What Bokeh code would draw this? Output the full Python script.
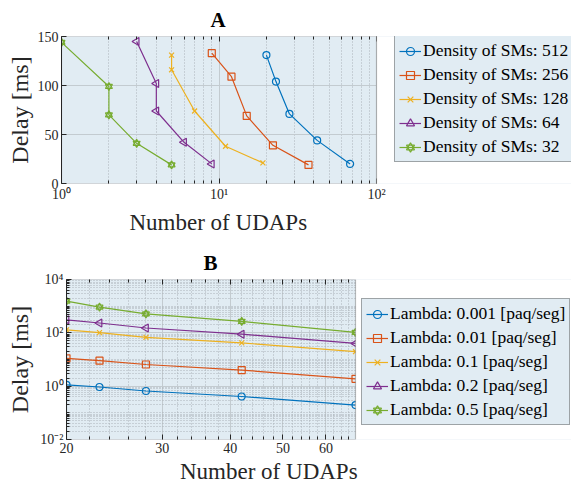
import math
from bokeh.plotting import figure
from bokeh.models import (FixedTicker, LogAxis, Legend, LegendItem, Range1d,
                          BoxAnnotation, Title)
from bokeh.embed import file_html
from bokeh.resources import INLINE

FONT = "Liberation Serif"
BG = "#e1ecf3"
INK = "#262626"
COLORS = ["#0072BD", "#D95319", "#EDB120", "#7E2F8E", "#77AC30"]
MARKERS = ["circle", "square", "x", "tri_left", "hexagram"]

# ---------------- Panel A data ----------------
a_labels = ["Density of SMs: 512", "Density of SMs: 256", "Density of SMs: 128",
            "Density of SMs: 64", "Density of SMs: 32"]
a_x_512 = [20, 23, 28, 42, 68]
a_y_512 = [131, 104, 71, 44, 20]
a_x_256 = [9, 12, 15, 22, 37]
a_y_256 = [133, 109, 69, 39, 19]
a_x_128 = [5, 5, 7, 11, 19]
a_y_128 = [131, 116, 74, 38, 21]
a_x_64 = [3, 4, 4, 6, 9]
a_y_64 = [145, 102, 74, 42, 20]
a_x_32 = [1, 2, 2, 3, 5]
a_y_32 = [144, 99, 70, 41, 19]
a_xlim = (1, 100)
a_ylim = (0, 150)
a_xticks = [1, 10, 100]
a_xtick_labels = ["10\u2070", "10\u00b9", "10\u00b2"]
a_yticks = [0, 50, 100, 150]

# ---------------- Panel B data ----------------
b_labels = ["Lambda: 0.001 [paq/seg]", "Lambda: 0.01 [paq/seg]", "Lambda: 0.1 [paq/seg]",
            "Lambda: 0.2 [paq/seg]", "Lambda: 0.5 [paq/seg]"]
b_x = [20, 23, 28, 42, 68]
b_y_0001 = [1.12, 0.93, 0.66, 0.41, 0.195]
b_y_001 = [11.1, 9.0, 6.5, 4.0, 1.88]
b_y_01 = [129, 102, 68, 42, 19.6]
b_y_02 = [308, 234, 152, 89, 40]
b_y_05 = [1550, 927, 513, 268, 104]
b_xlim = (20, 68)
b_ylim = (0.01, 10000)
b_xticks = [20, 30, 40, 50, 60]
b_xminor = [22, 24, 26, 28, 32, 34, 36, 38, 42, 44, 46, 48, 52, 54, 56, 58, 62, 64, 66]
b_yticks = [0.01, 1, 100, 10000]
b_ytick_labels = ["10\u207b\u00b2", "10\u2070", "10\u00b2", "10\u2074"]

W = 571


def style_axis(ax, minor=True):
    ax.axis_line_color = INK
    ax.major_tick_line_color = INK
    ax.minor_tick_line_color = INK if minor else None
    ax.major_tick_in = 5
    ax.major_tick_out = 0
    ax.minor_tick_in = 3
    ax.minor_tick_out = 0
    ax.major_label_text_font = FONT
    ax.major_label_text_font_size = "14px"
    ax.major_label_text_color = INK
    ax.major_label_standoff = 3
    ax.axis_label_text_font = FONT
    ax.axis_label_text_font_style = "normal"
    ax.axis_label_text_color = INK


def top_mirror(p, ticker, ticks):
    ax = LogAxis(ticker=ticker)
    style_axis(ax)
    ax.axis_line_color = None
    ax.major_label_overrides = {t: "0" for t in ticks}
    ax.major_label_text_font_size = "2px"
    ax.major_label_text_alpha = 0
    ax.major_label_standoff = 0
    p.add_layout(ax, "above")


def draw(p, x, y, color, marker):
    rs = [p.line(x, y, line_color=color, line_width=1.2)]
    kw = dict(size=7, line_color=color, fill_color=None, line_width=1.2)
    if marker == "hexagram":
        rs.append(p.scatter(x, y, marker="triangle", **kw))
        rs.append(p.scatter(x, y, marker="inverted_triangle", **kw))
    elif marker == "tri_left":
        rs.append(p.scatter(x, y, marker="triangle", angle=math.pi / 2, size=8,
                            line_color=color, fill_color=None, line_width=1.2))
    else:
        rs.append(p.scatter(x, y, marker=marker, **kw))
    return rs


def make_legend(items, size, loc, spacing):
    return Legend(items=items, location=loc, label_text_font=FONT,
                  label_text_font_size=size, label_text_color="#000000",
                  label_height=20, glyph_height=20, glyph_width=22,
                  label_standoff=2, spacing=spacing, padding=4, margin=0,
                  background_fill_color=BG, background_fill_alpha=1.0,
                  border_line_color="#5a5a5a", border_line_width=1.2)


def style_fig(p, title, title_offset, xlabel, xlabel_offset, xlabel_standoff, xlim, ylim):
    p.title.text = title
    p.title.text_font = FONT
    p.title.text_font_size = "21px"
    p.title.text_font_style = "bold"
    p.title.align = "left"
    p.title.offset = title_offset
    p.title.text_color = "#000000"
    p.background_fill_color = BG
    p.border_fill_color = "white"
    p.outline_line_color = None
    p.xaxis.axis_line_color = None
    p.add_layout(Title(text=xlabel, align="left", offset=xlabel_offset,
                       standoff=xlabel_standoff, text_font=FONT, text_font_size="23px",
                       text_font_style="normal", text_color=INK), "below")
    # blank the part of the frame to the right of the axes box (legend area)
    p.add_layout(BoxAnnotation(left=xlim[1], fill_color="white", fill_alpha=1.0,
                               line_color=None))
    # axes box
    p.add_layout(BoxAnnotation(left=xlim[0], right=xlim[1], bottom=ylim[0], top=ylim[1],
                               fill_color=None, fill_alpha=0, line_color=INK, line_width=1.2))


# ---------------- Figure A ----------------
A_LEFT, A_BOX_W = 61, 315
a_frame_w = W - A_LEFT
a_xend = a_xlim[0] * 10 ** (math.log10(a_xlim[1] / a_xlim[0]) * a_frame_w / A_BOX_W)
pa = figure(width=W, height=243, x_axis_type="log",
            x_range=Range1d(a_xlim[0], a_xend), y_range=Range1d(*a_ylim),
            output_backend="svg", toolbar_location=None,
            min_border_left=A_LEFT, min_border_right=0, min_border_top=30, min_border_bottom=60)
xt_a = FixedTicker(ticks=a_xticks,
                   minor_ticks=[k * 10 ** e for e in range(0, 2) for k in range(2, 10)])
yt_a = FixedTicker(ticks=a_yticks)
pa.xaxis.ticker = xt_a
pa.yaxis.ticker = yt_a
pa.xgrid.ticker = xt_a
pa.ygrid.ticker = yt_a
pa.xaxis.major_label_overrides = {t: l for t, l in zip(a_xticks, a_xtick_labels)}
style_axis(pa.xaxis[0])
style_axis(pa.yaxis[0], minor=False)
pa.yaxis.axis_label = "Delay [ms]"
pa.yaxis.axis_label_text_font_size = "24px"
pa.yaxis.axis_label_standoff = 2
pa.xgrid.grid_line_color = "#c3cbd0"
pa.ygrid.grid_line_color = "#c3cbd0"
pa.xgrid.minor_grid_line_color = "#aab2b8"
pa.xgrid.minor_grid_line_dash = "1 2"
top_mirror(pa, xt_a, a_xticks)
style_fig(pa, "A", 149, "Number of UDAPs", 68, 6, a_xlim, a_ylim)

a_series = [(a_x_512, a_y_512), (a_x_256, a_y_256), (a_x_128, a_y_128),
            (a_x_64, a_y_64), (a_x_32, a_y_32)]
items_a = []
for (x, y), c, m, lab in zip(a_series, COLORS, MARKERS, a_labels):
    items_a.append(LegendItem(label=lab, renderers=draw(pa, x, y, c, m)))
pa.add_layout(make_legend(items_a, "17.5px", (333, 21), 3))

# ---------------- Figure B ----------------
B_LEFT, B_BOX_W = 66, 289
b_frame_w = W - B_LEFT
b_xend = b_xlim[0] * 10 ** (math.log10(b_xlim[1] / b_xlim[0]) * b_frame_w / B_BOX_W)
pb = figure(width=W, height=241, x_axis_type="log", y_axis_type="log",
            x_range=Range1d(b_xlim[0], b_xend), y_range=Range1d(*b_ylim),
            output_backend="svg", toolbar_location=None,
            min_border_left=B_LEFT, min_border_right=0, min_border_top=26, min_border_bottom=45)
xt_b = FixedTicker(ticks=b_xticks, minor_ticks=b_xminor)
yt_b = FixedTicker(ticks=b_yticks,
                   minor_ticks=[k * 10 ** e for e in range(-2, 4) for k in range(1, 10)
                                if k * 10 ** e not in b_yticks])
pb.xaxis.ticker = xt_b
pb.yaxis.ticker = yt_b
pb.xgrid.ticker = xt_b
pb.ygrid.ticker = yt_b
pb.yaxis.major_label_overrides = {t: l for t, l in zip(b_yticks, b_ytick_labels)}
style_axis(pb.xaxis[0])
style_axis(pb.yaxis[0])
pb.yaxis.axis_label = "Delay [ms]"
pb.yaxis.axis_label_text_font_size = "24px"
pb.yaxis.axis_label_standoff = 4
pb.xgrid.grid_line_color = "#c3cbd0"
pb.ygrid.grid_line_color = "#c3cbd0"
pb.xgrid.minor_grid_line_color = "#aab2b8"
pb.xgrid.minor_grid_line_dash = "1 2"
pb.ygrid.minor_grid_line_color = "#aab2b8"
pb.ygrid.minor_grid_line_dash = "1 2"
top_mirror(pb, xt_b, b_xticks)
style_fig(pb, "B", 137, "\u00a0" * 10 + "Number of UDAPs", 56, 2, b_xlim, b_ylim)

b_series = [b_y_0001, b_y_001, b_y_01, b_y_02, b_y_05]
items_b = []
for y, c, m, lab in zip(b_series, COLORS, MARKERS, b_labels):
    items_b.append(LegendItem(label=lab, renderers=draw(pb, b_x, y, c, m)))
pb.add_layout(make_legend(items_b, "17.5px", (295, 14), 3))

open("out.html", "w").write(file_html([pa, pb], INLINE))
